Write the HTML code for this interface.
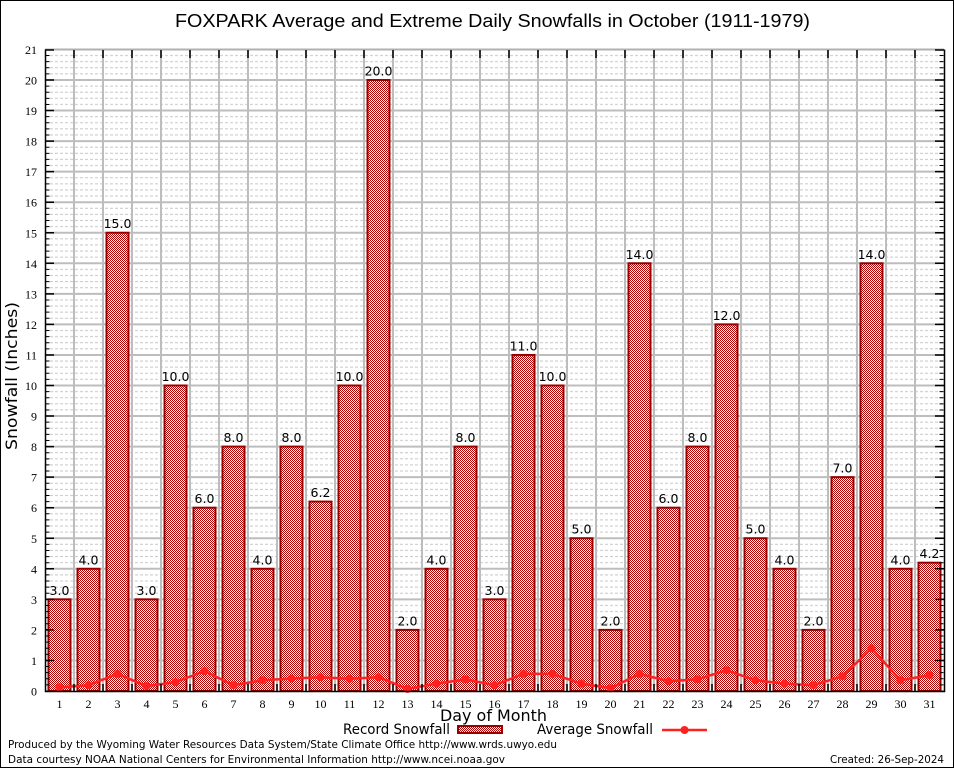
<!DOCTYPE html>
<html><head><meta charset="utf-8"><style>
html,body{margin:0;padding:0;background:#fff;}
svg{display:block;}
.t{font-family:"DejaVu Sans","Liberation Sans",sans-serif;}
.s{font-family:"Liberation Serif","DejaVu Serif",serif;font-size:12px;fill:#000;}
</style></head><body>
<svg width="954" height="768" viewBox="0 0 954 768" xmlns="http://www.w3.org/2000/svg">
<defs>
<pattern id="hat" patternUnits="userSpaceOnUse" width="2" height="2">
<rect width="2" height="2" fill="#fff"/>
<rect x="0" y="0" width="1" height="1" fill="#b00000"/>
<rect x="1" y="1" width="1" height="1" fill="#b00000"/>
</pattern>
<pattern id="minor" patternUnits="userSpaceOnUse" x="45" y="49.45" width="5" height="30.55">
<rect x="0" y="5.6" width="3" height="1" fill="#c8c8c8"/>
<rect x="0" y="11.7" width="3" height="1" fill="#c8c8c8"/>
<rect x="0" y="17.8" width="3" height="1" fill="#c8c8c8"/>
<rect x="0" y="23.9" width="3" height="1" fill="#c8c8c8"/>
</pattern>
</defs>
<rect x="0.5" y="0.5" width="953" height="767" fill="#fff" stroke="#000" stroke-width="1"/>
<text class="t" x="492.5" y="27" font-size="18" text-anchor="middle" textLength="635" lengthAdjust="spacingAndGlyphs" style="font-family:'Liberation Sans',sans-serif">FOXPARK Average and Extreme Daily Snowfalls in October (1911-1979)</text>

<!-- plot background -->
<rect x="45" y="49.45" width="899" height="641.55" fill="url(#minor)"/>
<!-- major grid -->
<path d="M74,49.5V691M103,49.5V691M132,49.5V691M161,49.5V691M190,49.5V691M219,49.5V691M248,49.5V691M277,49.5V691M306,49.5V691M335,49.5V691M364,49.5V691M393,49.5V691M422,49.5V691M451,49.5V691M480,49.5V691M509,49.5V691M538,49.5V691M567,49.5V691M596,49.5V691M625,49.5V691M654,49.5V691M683,49.5V691M712,49.5V691M741,49.5V691M770,49.5V691M799,49.5V691M828,49.5V691M857,49.5V691M886,49.5V691M915,49.5V691
M45,660.45H944M45,629.9H944M45,599.35H944M45,568.8H944M45,538.25H944M45,507.7H944M45,477.15H944M45,446.6H944M45,416.05H944M45,385.5H944M45,354.95H944M45,324.4H944M45,293.85H944M45,263.3H944M45,232.75H944M45,202.2H944M45,171.65H944M45,141.1H944M45,110.55H944M45,80H944" stroke="#bdbdbd" stroke-width="2" fill="none"/>

<!-- bars -->
<g fill="url(#hat)" stroke="#990000" stroke-width="2">
<rect x="48.5" y="599.35" width="22" height="91.65"/>
<rect x="77.5" y="568.8" width="22" height="122.2"/>
<rect x="106.5" y="232.75" width="22" height="458.25"/>
<rect x="135.5" y="599.35" width="22" height="91.65"/>
<rect x="164.5" y="385.5" width="22" height="305.5"/>
<rect x="193.5" y="507.7" width="22" height="183.3"/>
<rect x="222.5" y="446.6" width="22" height="244.4"/>
<rect x="251.5" y="568.8" width="22" height="122.2"/>
<rect x="280.5" y="446.6" width="22" height="244.4"/>
<rect x="309.5" y="501.59" width="22" height="189.41"/>
<rect x="338.5" y="385.5" width="22" height="305.5"/>
<rect x="367.5" y="80" width="22" height="611"/>
<rect x="396.5" y="629.9" width="22" height="61.1"/>
<rect x="425.5" y="568.8" width="22" height="122.2"/>
<rect x="454.5" y="446.6" width="22" height="244.4"/>
<rect x="483.5" y="599.35" width="22" height="91.65"/>
<rect x="512.5" y="354.95" width="22" height="336.05"/>
<rect x="541.5" y="385.5" width="22" height="305.5"/>
<rect x="570.5" y="538.25" width="22" height="152.75"/>
<rect x="599.5" y="629.9" width="22" height="61.1"/>
<rect x="628.5" y="263.3" width="22" height="427.7"/>
<rect x="657.5" y="507.7" width="22" height="183.3"/>
<rect x="686.5" y="446.6" width="22" height="244.4"/>
<rect x="715.5" y="324.4" width="22" height="366.6"/>
<rect x="744.5" y="538.25" width="22" height="152.75"/>
<rect x="773.5" y="568.8" width="22" height="122.2"/>
<rect x="802.5" y="629.9" width="22" height="61.1"/>
<rect x="831.5" y="477.15" width="22" height="213.85"/>
<rect x="860.5" y="263.3" width="22" height="427.7"/>
<rect x="889.5" y="568.8" width="22" height="122.2"/>
<rect x="918.5" y="562.69" width="22" height="128.31"/>
</g>

<!-- bar labels -->
<g class="t" font-size="12.5" text-anchor="middle" fill="#000">
<text x="59.5" y="594.8">3.0</text>
<text x="88.5" y="564.3">4.0</text>
<text x="117.5" y="228.2">15.0</text>
<text x="146.5" y="594.8">3.0</text>
<text x="175.5" y="381">10.0</text>
<text x="204.5" y="503.2">6.0</text>
<text x="233.5" y="442.1">8.0</text>
<text x="262.5" y="564.3">4.0</text>
<text x="291.5" y="442.1">8.0</text>
<text x="320.5" y="497">6.2</text>
<text x="349.5" y="381">10.0</text>
<text x="378.5" y="75.5">20.0</text>
<text x="407.5" y="625.4">2.0</text>
<text x="436.5" y="564.3">4.0</text>
<text x="465.5" y="442.1">8.0</text>
<text x="494.5" y="594.8">3.0</text>
<text x="523.5" y="350.4">11.0</text>
<text x="552.5" y="381">10.0</text>
<text x="581.5" y="533.7">5.0</text>
<text x="610.5" y="625.4">2.0</text>
<text x="639.5" y="258.8">14.0</text>
<text x="668.5" y="503.2">6.0</text>
<text x="697.5" y="442.1">8.0</text>
<text x="726.5" y="319.9">12.0</text>
<text x="755.5" y="533.7">5.0</text>
<text x="784.5" y="564.3">4.0</text>
<text x="813.5" y="625.4">2.0</text>
<text x="842.5" y="472.6">7.0</text>
<text x="871.5" y="258.8">14.0</text>
<text x="900.5" y="564.3">4.0</text>
<text x="929.5" y="558.1">4.2</text>
</g>

<!-- average line -->
<polyline fill="none" stroke="#ff2020" stroke-width="2.5" stroke-linejoin="round" points="59.5,687.33 88.5,685.2 117.5,673.89 146.5,686.11 175.5,682.14 204.5,671.14 233.5,685.2 262.5,680.31 291.5,678.47 320.5,677.25 349.5,678.78 378.5,677.25 407.5,688.86 436.5,683.67 465.5,679.39 494.5,685.2 523.5,673.89 552.5,673.89 581.5,683.67 610.5,688.25 639.5,673.89 668.5,681.22 697.5,679.39 726.5,670.23 755.5,680.31 784.5,683.67 813.5,685.2 842.5,676.34 871.5,648.23 900.5,680.31 929.5,675.11"/>
<g fill="#ff2020">
<circle cx="59.5" cy="687.33" r="4"/><circle cx="88.5" cy="685.2" r="4"/><circle cx="117.5" cy="673.89" r="4"/><circle cx="146.5" cy="686.11" r="4"/><circle cx="175.5" cy="682.14" r="4"/><circle cx="204.5" cy="671.14" r="4"/><circle cx="233.5" cy="685.2" r="4"/><circle cx="262.5" cy="680.31" r="4"/><circle cx="291.5" cy="678.47" r="4"/><circle cx="320.5" cy="677.25" r="4"/><circle cx="349.5" cy="678.78" r="4"/><circle cx="378.5" cy="677.25" r="4"/><circle cx="407.5" cy="688.86" r="4"/><circle cx="436.5" cy="683.67" r="4"/><circle cx="465.5" cy="679.39" r="4"/><circle cx="494.5" cy="685.2" r="4"/><circle cx="523.5" cy="673.89" r="4"/><circle cx="552.5" cy="673.89" r="4"/><circle cx="581.5" cy="683.67" r="4"/><circle cx="610.5" cy="688.25" r="4"/><circle cx="639.5" cy="673.89" r="4"/><circle cx="668.5" cy="681.22" r="4"/><circle cx="697.5" cy="679.39" r="4"/><circle cx="726.5" cy="670.23" r="4"/><circle cx="755.5" cy="680.31" r="4"/><circle cx="784.5" cy="683.67" r="4"/><circle cx="813.5" cy="685.2" r="4"/><circle cx="842.5" cy="676.34" r="4"/><circle cx="871.5" cy="648.23" r="4"/><circle cx="900.5" cy="680.31" r="4"/><circle cx="929.5" cy="675.11" r="4"/>
</g>

<!-- borders -->
<line x1="45" y1="49.5" x2="944" y2="49.5" stroke="#b0b0b0" stroke-width="2"/>
<path d="M45.5,49.5V691.5H944.5V49.5" fill="none" stroke="#000" stroke-width="1.5"/>
<!-- minor ticks -->
<line x1="47.5" y1="49.45" x2="47.5" y2="691" stroke="#000" stroke-width="4" stroke-dasharray="1 5.11" stroke-dashoffset="0.5"/>
<line x1="941.5" y1="49.45" x2="941.5" y2="691" stroke="#000" stroke-width="4" stroke-dasharray="1 5.11" stroke-dashoffset="0.5"/>
<!-- major ticks -->
<path stroke="#000" stroke-width="1.5" fill="none" d="M45,660.45h9M45,629.9h9M45,599.35h9M45,568.8h9M45,538.25h9M45,507.7h9M45,477.15h9M45,446.6h9M45,416.05h9M45,385.5h9M45,354.95h9M45,324.4h9M45,293.85h9M45,263.3h9M45,232.75h9M45,202.2h9M45,171.65h9M45,141.1h9M45,110.55h9M45,80h9M45,50h9
M944,660.45h-9M944,629.9h-9M944,599.35h-9M944,568.8h-9M944,538.25h-9M944,507.7h-9M944,477.15h-9M944,446.6h-9M944,416.05h-9M944,385.5h-9M944,354.95h-9M944,324.4h-9M944,293.85h-9M944,263.3h-9M944,232.75h-9M944,202.2h-9M944,171.65h-9M944,141.1h-9M944,110.55h-9M944,80h-9M944,50h-9
M74,50v8M103,50v8M132,50v8M161,50v8M190,50v8M219,50v8M248,50v8M277,50v8M306,50v8M335,50v8M364,50v8M393,50v8M422,50v8M451,50v8M480,50v8M509,50v8M538,50v8M567,50v8M596,50v8M625,50v8M654,50v8M683,50v8M712,50v8M741,50v8M770,50v8M799,50v8M828,50v8M857,50v8M886,50v8M915,50v8
M74,691v-7M103,691v-7M132,691v-7M161,691v-7M190,691v-7M219,691v-7M248,691v-7M277,691v-7M306,691v-7M335,691v-7M364,691v-7M393,691v-7M422,691v-7M451,691v-7M480,691v-7M509,691v-7M538,691v-7M567,691v-7M596,691v-7M625,691v-7M654,691v-7M683,691v-7M712,691v-7M741,691v-7M770,691v-7M799,691v-7M828,691v-7M857,691v-7M886,691v-7M915,691v-7"/>

<!-- y tick labels -->
<g class="s" text-anchor="end">
<text x="37" y="695.5">0</text>
<text x="37" y="665">1</text>
<text x="37" y="634.4">2</text>
<text x="37" y="603.9">3</text>
<text x="37" y="573.3">4</text>
<text x="37" y="542.8">5</text>
<text x="37" y="512.2">6</text>
<text x="37" y="481.7">7</text>
<text x="37" y="451.1">8</text>
<text x="37" y="420.6">9</text>
<text x="37" y="390">10</text>
<text x="37" y="359.5">11</text>
<text x="37" y="328.9">12</text>
<text x="37" y="298.4">13</text>
<text x="37" y="267.8">14</text>
<text x="37" y="237.3">15</text>
<text x="37" y="206.7">16</text>
<text x="37" y="176.2">17</text>
<text x="37" y="145.6">18</text>
<text x="37" y="115.1">19</text>
<text x="37" y="84.5">20</text>
<text x="37" y="54">21</text>
</g>
<!-- x tick labels -->
<g class="s" text-anchor="middle">
<text x="59.5" y="708">1</text><text x="88.5" y="708">2</text><text x="117.5" y="708">3</text><text x="146.5" y="708">4</text><text x="175.5" y="708">5</text><text x="204.5" y="708">6</text><text x="233.5" y="708">7</text><text x="262.5" y="708">8</text><text x="291.5" y="708">9</text><text x="320.5" y="708">10</text><text x="349.5" y="708">11</text><text x="378.5" y="708">12</text><text x="407.5" y="708">13</text><text x="436.5" y="708">14</text><text x="465.5" y="708">15</text><text x="494.5" y="708">16</text><text x="523.5" y="708">17</text><text x="552.5" y="708">18</text><text x="581.5" y="708">19</text><text x="610.5" y="708">20</text><text x="639.5" y="708">21</text><text x="668.5" y="708">22</text><text x="697.5" y="708">23</text><text x="726.5" y="708">24</text><text x="755.5" y="708">25</text><text x="784.5" y="708">26</text><text x="813.5" y="708">27</text><text x="842.5" y="708">28</text><text x="871.5" y="708">29</text><text x="900.5" y="708">30</text><text x="929.5" y="708">31</text>
</g>

<!-- axis titles -->
<text class="t" x="440" y="721" font-size="16" textLength="107" lengthAdjust="spacingAndGlyphs">Day of Month</text>
<text class="t" transform="translate(17,450) rotate(-90)" x="0" y="0" font-size="16" textLength="148" lengthAdjust="spacingAndGlyphs">Snowfall (Inches)</text>

<!-- legend -->
<text class="t" x="343" y="734" font-size="14" textLength="107" lengthAdjust="spacingAndGlyphs">Record Snowfall</text>
<rect x="458" y="726" width="44" height="7" fill="url(#hat)" stroke="#990000" stroke-width="2"/>
<text class="t" x="537" y="734" font-size="14" textLength="116" lengthAdjust="spacingAndGlyphs">Average Snowfall</text>
<line x1="662" y1="730" x2="707" y2="730" stroke="#ff2020" stroke-width="2.5"/>
<circle cx="684.5" cy="730" r="4" fill="#ff2020"/>

<!-- footer -->
<text class="t" x="8" y="748" font-size="11" textLength="549" lengthAdjust="spacingAndGlyphs">Produced by the Wyoming Water Resources Data System/State Climate Office http://www.wrds.uwyo.edu</text>
<text class="t" x="8" y="763" font-size="11" textLength="497" lengthAdjust="spacingAndGlyphs">Data courtesy NOAA National Centers for Environmental Information http://www.ncei.noaa.gov</text>
<text class="t" x="944" y="763" font-size="11" text-anchor="end" textLength="114" lengthAdjust="spacingAndGlyphs">Created: 26-Sep-2024</text>
</svg>
</body></html>
